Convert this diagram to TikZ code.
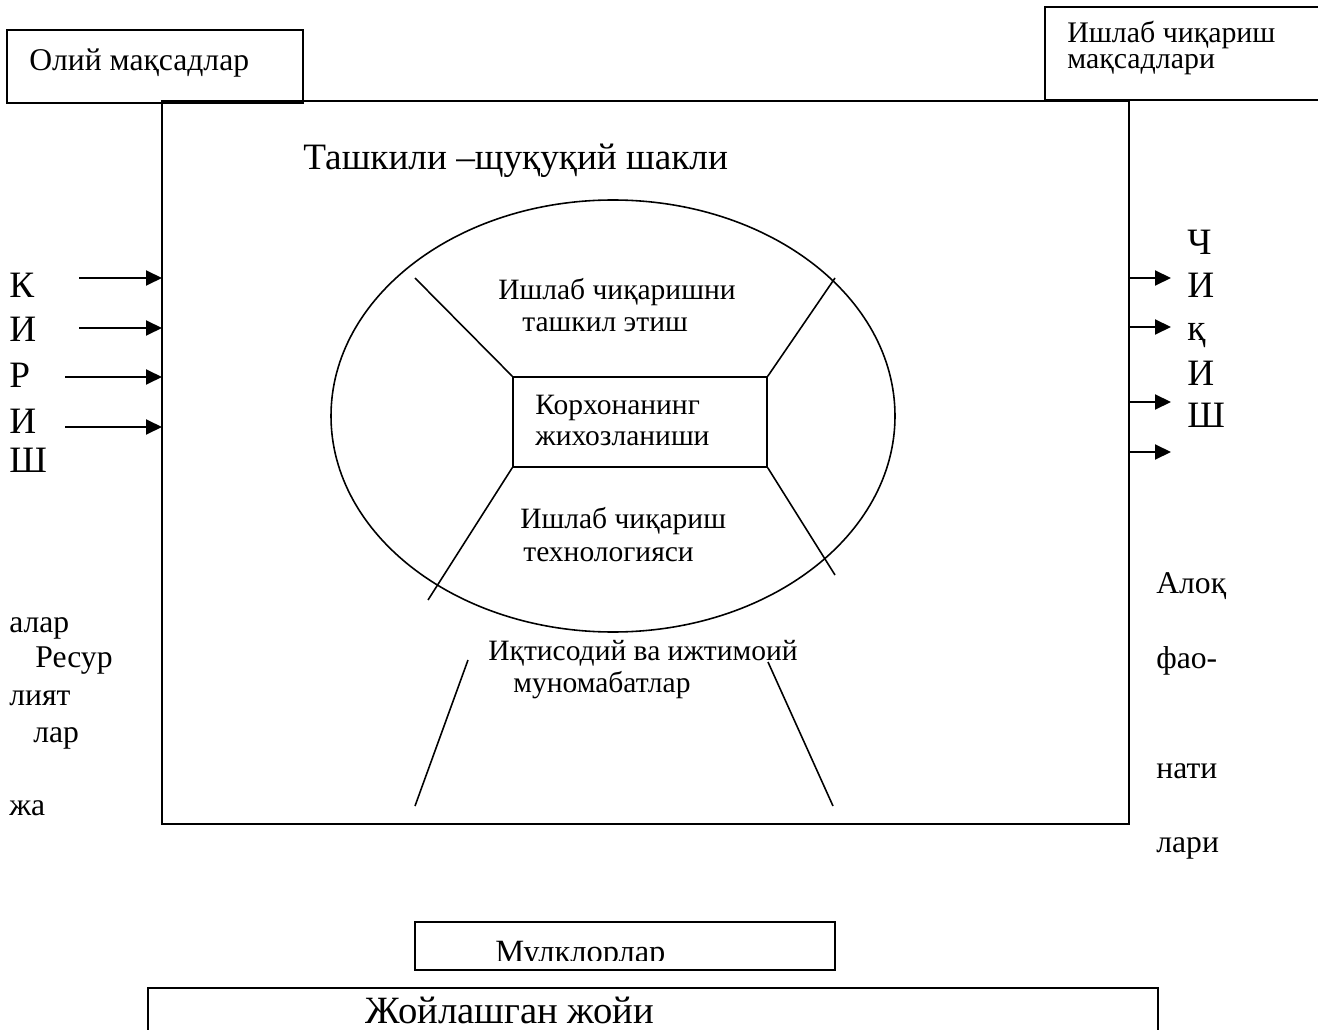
\documentclass[tikz,border=0pt]{standalone}
\usepackage{fontspec}
\setmainfont{Liberation Serif}
\usetikzlibrary{arrows.meta}

\begin{document}
\begin{tikzpicture}[x=0.02cm, y=-0.02cm,
    txt/.style={anchor=base west, inner sep=0},
    huge/.style={txt, font=\fontsize{22}{22}\selectfont},
    big/.style={txt, font=\fontsize{21.2}{21.2}\selectfont},
    mid/.style={txt, font=\fontsize{18}{18}\selectfont},
    small/.style={txt, font=\fontsize{16.8}{16.8}\selectfont},
    arr/.style={-{Triangle[length=0.32cm, width=0.3cm]}, line width=1.1pt},
    frame/.style={line width=0.9pt}]
% Canvas
\useasboundingbox (0,0) rectangle (1318,1030);
\clip (0,0) rectangle (1318,1030);

% Goals
\draw[frame] (7,30) rectangle (303,103);
\draw (29,71) node[mid] (high-goals) {Олий мақсадлар};
\draw[frame] (1045,7) rectangle (1335,100);
\draw (1067,69) node[txt, align=left, font=\fontsize{17}{15}\selectfont] (prod-goals) {Ишлаб чиқариш\\мақсадлари};

% Enterprise frame
\coordinate (frame-nw) at (162,101);
\coordinate (frame-se) at (1129,824);
\draw[frame] (frame-nw) rectangle (frame-se);
\draw (303,170) node[big] (legal-form) {Ташкили –щуқуқий шакли};

% Ellipse
\draw[frame] (613,416) ellipse [x radius=282, y radius=216];
\draw (640,422) node[draw, frame, minimum width=5.08cm, minimum height=1.8cm] (hub) {};
\draw (535,415) node[small] (hub-a) {Корхонанинг};
\draw (535,445) node[small] (hub-b) {жихозланиши};

\draw (498,300) node[small] (org-a) {Ишлаб чиқаришни};
\draw (522,332) node[small] (org-b) {ташкил этиш};
\draw (520,528) node[small] (tech-a) {Ишлаб чиқариш};
\draw (523,561) node[small] (tech-b) {технологияси};

% Spokes
\coordinate (spoke-ul) at (415,278);
\coordinate (spoke-ur) at (835,278);
\coordinate (spoke-ll) at (428,600);
\coordinate (spoke-lr) at (835,575);
\draw[frame] (hub.north west) -- (spoke-ul);
\draw[frame] (hub.north east) -- (spoke-ur);
\draw[frame] (hub.south west) -- (spoke-ll);
\draw[frame] (hub.south east) -- (spoke-lr);

% Relations
\draw (488,660) node[small] (rel-a) {Иқтисодий ва ижтимоий};
\draw (513,692) node[small] (rel-b) {муномабатлар};
\coordinate (leg-l-top) at (468,660);
\coordinate (leg-l-bot) at (415,806);
\coordinate (leg-r-top) at (768,662);
\coordinate (leg-r-bot) at (833,806);
\draw[frame] (leg-l-top) -- (leg-l-bot);
\draw[frame] (leg-r-top) -- (leg-r-bot);

% Inputs
\draw (9,298) node[big] (in-1) {К};
\draw (9,342) node[big] (in-2) {И};
\draw (9,387) node[big] (in-3) {Р};
\draw (9,433) node[big] (in-4) {И};
\draw (9,472) node[big] (in-5) {Ш};
\coordinate (in-arr-1) at (79,278);
\coordinate (in-arr-2) at (79,328);
\coordinate (in-arr-3) at (65,377);
\coordinate (in-arr-4) at (65,427);
\draw[arr] (in-arr-1) -- (frame-nw |- in-arr-1);
\draw[arr] (in-arr-2) -- (frame-nw |- in-arr-2);
\draw[arr] (in-arr-3) -- (frame-nw |- in-arr-3);
\draw[arr] (in-arr-4) -- (frame-nw |- in-arr-4);

% Outputs
\draw (1187,255) node[big] (out-1) {Ч};
\draw (1187,298) node[big] (out-2) {И};
\draw (1187,340) node[big] (out-3) {қ};
\draw (1187,385) node[big] (out-4) {И};
\draw (1187,427) node[big] (out-5) {Ш};
\coordinate (out-arr-1) at (1171,278);
\coordinate (out-arr-2) at (1171,327);
\coordinate (out-arr-3) at (1171,402);
\coordinate (out-arr-4) at (1171,452);
\draw[arr] (frame-se |- out-arr-1) -- (out-arr-1);
\draw[arr] (frame-se |- out-arr-2) -- (out-arr-2);
\draw[arr] (frame-se |- out-arr-3) -- (out-arr-3);
\draw[arr] (frame-se |- out-arr-4) -- (out-arr-4);

% Side words
\draw (9,632) node[mid] (res-1) {алар};
\draw (35,667) node[mid] (res-2) {Ресур};
\draw (9,705) node[mid] (res-3) {лият};
\draw (33,742) node[mid] (res-4) {лар};
\draw (9,815) node[mid] (res-5) {жа};
\draw (1156,593) node[mid] (res-6) {Алоқ};
\draw (1156,668) node[mid] (res-7) {фао-};
\draw (1156,778) node[mid] (res-8) {нати};
\draw (1156,852) node[mid] (res-9) {лари};

% Property and location
\draw[frame] (415,922) rectangle (835,970);
\begin{scope}
\clip (415,922) rectangle (835,960);
\draw (495,962) node[txt, font=\fontsize{18.5}{18.5}\selectfont] (property) {Мулклорлар};
\end{scope}
\draw[frame] (148,988) rectangle (1158,1045);
\draw (365,1023) node[huge, text depth=0pt] (location) {Жойлашган жойи};
\end{tikzpicture}
\end{document}
